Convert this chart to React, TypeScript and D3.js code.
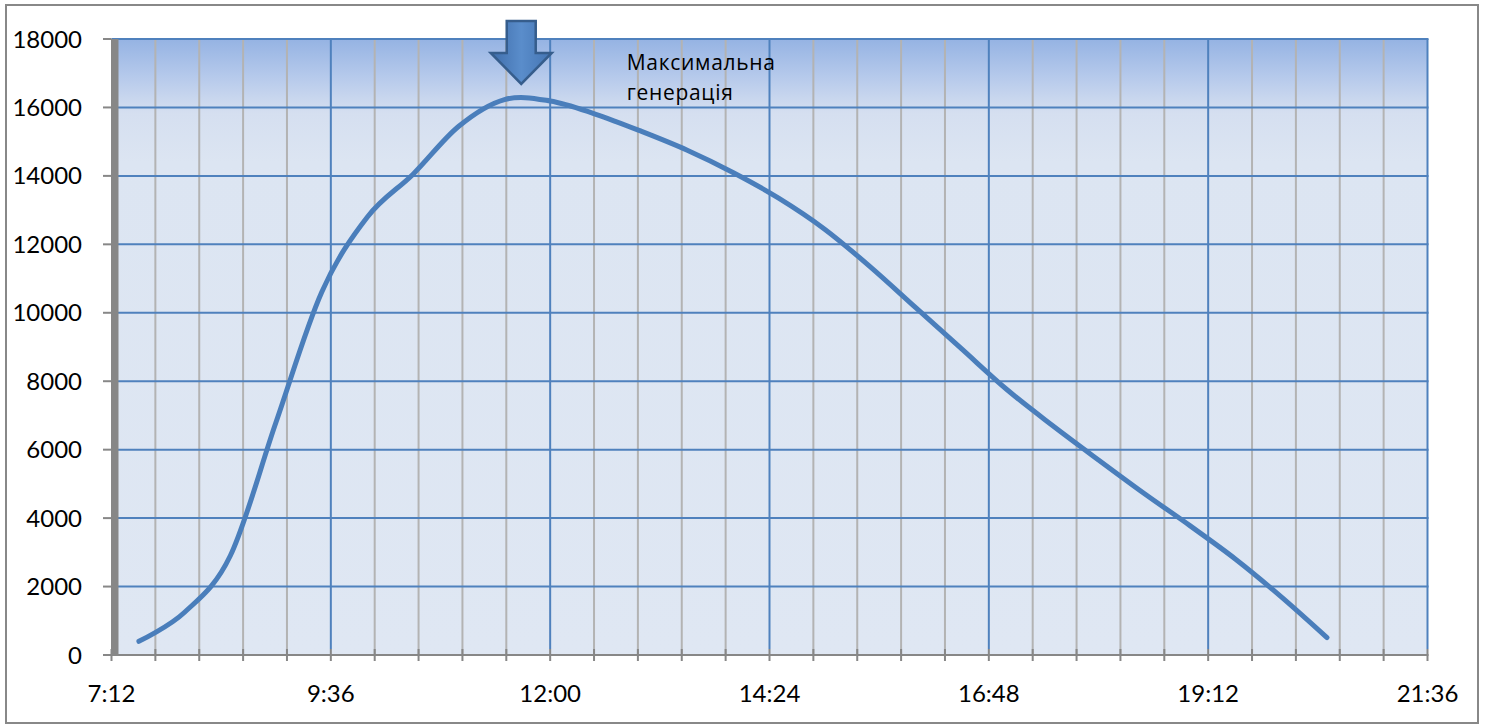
import React from "react";
import * as d3 from "d3";

// ---- data ----
const times: string[] = [
  "7:30", "8:00", "8:30", "9:00", "9:30", "10:00", "10:30", "11:00", "11:30",
  "12:00", "12:30", "13:00", "13:30", "14:00", "14:30", "15:00", "15:30",
  "16:00", "16:30", "17:00", "17:30", "18:00", "18:30", "19:00", "19:30",
  "20:00", "20:30",
];
const generation: number[] = [
  400, 1250, 2900, 6800, 10600, 12800, 14050, 15450, 16230,
  16190, 15800, 15300, 14750, 14100, 13350, 12450, 11350,
  10150, 8950, 7750, 6700, 5700, 4720, 3780, 2800,
  1700, 510,
];
const yTicks: number[] = [0, 2000, 4000, 6000, 8000, 10000, 12000, 14000, 16000, 18000];
const xMajorLabels: string[] = ["7:12", "9:36", "12:00", "14:24", "16:48", "19:12", "21:36"];
const annotationLines: string[] = ["Максимальна", "генерація"];
const peakMarkerTime = "11:41";

const toMin = (s: string) => {
  const [h, m] = s.split(":").map(Number);
  return h * 60 + m;
};

const W = 1485;
const H = 727;
const left = 111.5;
const right = 1427.5;
const top = 39;
const bottom = 655;

export default function App() {
  const x = d3.scaleLinear().domain([toMin("7:12"), toMin("21:36")]).range([left, right]);
  const y = d3.scaleLinear().domain([0, 18000]).range([bottom, top]);

  const pts: [number, number][] = times.map((t, i) => [x(toMin(t)), y(generation[i])]);
  const line = d3.line().curve(d3.curveCardinal.tension(0))(pts) || "";

  const minorStep = 28.8;
  const minorTicks: number[] = [];
  for (let k = 0; k <= 30; k++) minorTicks.push(toMin("7:12") + k * minorStep);
  const majorTimes = xMajorLabels.map(toMin);

  const ax = x(toMin(peakMarkerTime));
  const arrowTop = top - 18;
  const shaftW = 14.5;
  const headW = 30.5;
  const shaftBottom = top + 14;
  const tip = top + 45;
  const arrowPath = [
    [ax - shaftW, arrowTop],
    [ax + shaftW, arrowTop],
    [ax + shaftW, shaftBottom],
    [ax + headW, shaftBottom],
    [ax, tip],
    [ax - headW, shaftBottom],
    [ax - shaftW, shaftBottom],
  ]
    .map((p, i) => (i === 0 ? "M" : "L") + p[0] + "," + p[1])
    .join("") + "Z";

  const blue = "#4f81bd";
  const gray = "#878787";
  const minorGray = "#b3b3b3";

  return (
    <svg
      width={W}
      height={H}
      style={{ position: "absolute", left: 0, top: 0, background: "#fff" }}
    >
      <defs>
        <linearGradient id="bg" x1="0" y1="0" x2="0" y2="1">
          <stop offset="0" stopColor="#95b3e3" />
          <stop offset="0.06" stopColor="#b5c9eb" />
          <stop offset="0.12" stopColor="#d5dff0" />
          <stop offset="0.2" stopColor="#dce5f2" />
          <stop offset="1" stopColor="#dfe7f3" />
        </linearGradient>
        <linearGradient id="arrowFill" x1="0" y1="0" x2="1" y2="0">
          <stop offset="0" stopColor="#3f6daa" />
          <stop offset="0.5" stopColor="#5a8dcb" />
          <stop offset="1" stopColor="#4474b2" />
        </linearGradient>
      </defs>

      {/* outer frame */}
      <rect x={6} y={5} width={1472} height={718} fill="#fff" stroke="#888" strokeWidth={2} />

      {/* plot background */}
      <rect x={left} y={top} width={right - left} height={bottom - top} fill="url(#bg)" />

      {/* minor vertical gridlines */}
      {minorTicks
        .filter((m) => !majorTimes.some((mm) => Math.abs(mm - m) < 0.01))
        .map((m, i) => (
          <line key={"mv" + i} x1={x(m)} x2={x(m)} y1={top} y2={bottom} stroke={minorGray} strokeWidth={2} />
        ))}
      {/* major vertical gridlines */}
      {majorTimes.slice(1).map((m, i) => (
        <line key={"Mv" + i} x1={x(m)} x2={x(m)} y1={top} y2={bottom - 6} stroke={blue} strokeWidth={2} />
      ))}
      {/* horizontal gridlines */}
      {yTicks.slice(1).map((v, i) => (
        <line key={"h" + i} x1={left} x2={right + 1} y1={y(v)} y2={y(v)} stroke={blue} strokeWidth={2} />
      ))}

      {/* x axis */}
      <line x1={103} x2={right + 1} y1={bottom} y2={bottom} stroke={gray} strokeWidth={2} />
      {minorTicks.map((m, i) => (
        <line key={"xt" + i} x1={x(m)} x2={x(m)} y1={bottom - 6} y2={bottom + 6} stroke={gray} strokeWidth={2} />
      ))}
      {/* y axis */}
      {yTicks.map((v, i) => (
        <line key={"yt" + i} x1={103} x2={left} y1={y(v)} y2={y(v)} stroke={gray} strokeWidth={2} />
      ))}
      <rect x={left - 0.5} y={top} width={7.5} height={bottom - top} fill={gray} />

      {/* labels */}
      {yTicks.map((v, i) => (
        <text
          key={"yl" + i}
          x={82}
          y={y(v) + 8.5}
          textAnchor="end"
          fontFamily="Lato, 'Open Sans', sans-serif"
          fontSize={24}
          fill="#000"
        >
          {v}
        </text>
      ))}
      {xMajorLabels.map((s, i) => (
        <text
          key={"xl" + i}
          x={x(toMin(s))}
          y={702}
          textAnchor="middle"
          fontFamily="Lato, 'Open Sans', sans-serif"
          fontSize={24}
          fill="#000"
        >
          {s}
        </text>
      ))}

      {/* series */}
      <path d={line} fill="none" stroke="#4a7ebb" strokeWidth={5} strokeLinecap="round" strokeLinejoin="round" />

      {/* annotation */}
      <path d={arrowPath} fill="url(#arrowFill)" stroke="#365d8c" strokeWidth={2.5} strokeLinejoin="miter" />
      {annotationLines.map((s, i) => (
        <text
          key={"an" + i}
          x={ax + 105.5}
          y={70 + i * 30}
          fontFamily="'Open Sans', sans-serif"
          fontSize={21}
          letterSpacing={0.7}
          fill="#000"
        >
          {s}
        </text>
      ))}
    </svg>
  );
}
